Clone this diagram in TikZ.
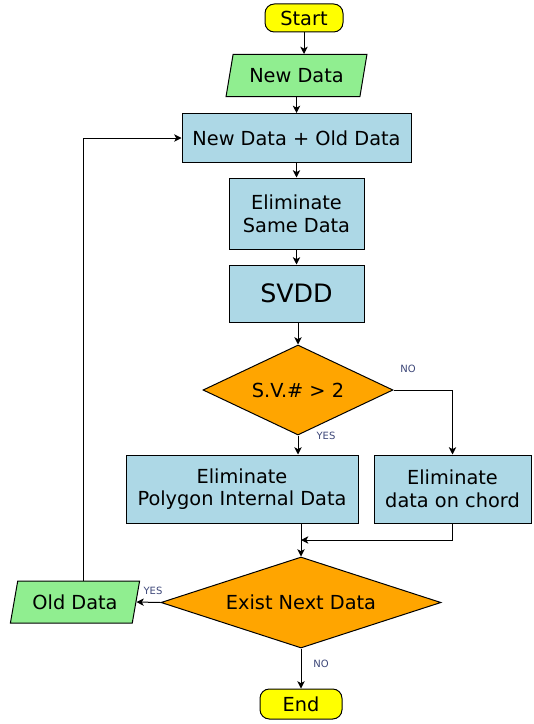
\documentclass[tikz,border=0pt]{standalone}
\usepackage{fontspec}
\setmainfont{DejaVu Sans}
\usetikzlibrary{shapes.geometric,arrows.meta}

\definecolor{boxblue}{RGB}{173,216,230}
\definecolor{iogreen}{RGB}{144,238,144}
\definecolor{testorange}{RGB}{255,165,0}
\definecolor{termyellow}{RGB}{255,255,0}
\definecolor{lblblue}{RGB}{60,70,120}

\begin{document}
\begin{tikzpicture}[x=0.75pt, y=-0.75pt, >={Stealth[length=5.5pt,width=5.5pt,inset=1.5pt]}, line width=0.75pt,
	every node/.style={font=\fontsize{14.5}{17}\selectfont, align=center},
	term/.style={draw, fill=termyellow, rectangle, rounded corners=7pt, inner sep=0pt},
	io/.style={draw, fill=iogreen, trapezium, trapezium left angle=70, trapezium right angle=110, trapezium stretches=true, inner sep=0pt},
	proc/.style={draw, fill=boxblue, rectangle, inner sep=0pt},
	test/.style={draw, fill=testorange, diamond, inner sep=0pt},
	lbl/.style={font=\fontsize{7.5}{8}\selectfont, text=lblblue, inner sep=1pt}]
\useasboundingbox (0,0) rectangle (533,724);

\node[term, minimum width=58.5pt, minimum height=21pt] (start) at (304,18) {Start};
\node[io, minimum width=105.75pt, minimum height=31.5pt] (newdata) at (296.5,75.5) {New Data};
\node[proc, minimum width=171.75pt, minimum height=36.75pt] (combine) at (296.5,138) {New Data + Old Data};
\node[proc, minimum width=101.25pt, minimum height=53.25pt] (same) at (296.5,213.5) {Eliminate\\Same Data};
\node[proc, minimum width=101.25pt, minimum height=42.75pt, font=\fontsize{19}{22}\selectfont] (svdd) at (296.5,293.5) {SVDD};
\node[test, aspect=2.1, minimum width=142.5pt, minimum height=67.5pt] (svnum) at (298,390) {S.V.\# > 2};
\node[proc, minimum width=174pt, minimum height=51pt] (poly) at (242,489) {Eliminate\\Polygon Internal Data};
\node[proc, minimum width=117.75pt, minimum height=51pt] (chord) at (452.5,489) {Eliminate\\data on chord};
\node[test, aspect=3.1, minimum width=210pt, minimum height=68.25pt] (exist) at (301,602.5) {Exist Next Data};
\node[io, minimum width=97.5pt, minimum height=31.5pt] (olddata) at (75,602) {Old Data};
\node[term, minimum width=61.5pt, minimum height=22.5pt] (end) at (301,704) {End};

\coordinate (join) at (301,540);

% main line
\draw[->] (start.south) -- (start.south |- newdata.north);
\draw[->] (newdata.south) -- (newdata.south |- combine.north);
\draw[->] (combine) -- (same);
\draw[->] (same) -- (svdd);
\draw[->] (svdd.south -| svnum.north) -- (svnum.north);

% S.V. test
\draw[->] (svnum.south) -- (svnum.south |- poly.north);
\draw[->] (svnum.east) -| (chord.north);
\node[lbl] (yes1) at (326,436) {YES};
\node[lbl] (no1) at (408,369) {NO};

% merge
\draw[->] (exist.north |- poly.south) -- (exist.north);
\draw[->] (chord.south) |- (join);

% next data test
\draw[->] (exist.west) -- (olddata.east);
\draw[->] ([xshift=6pt]olddata.north) |- (combine.west);
\draw[->] (exist.south) -- (end);
\node[lbl] (yes2) at (153,591) {YES};
\node[lbl] (no2) at (321,664) {NO};

\end{tikzpicture}
\end{document}
